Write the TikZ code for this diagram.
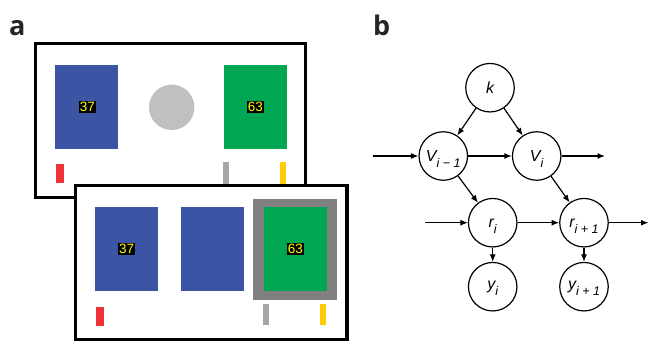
\documentclass[tikz,border=0pt]{standalone}
\usepackage{fontspec}
\setmainfont{Liberation Sans}
\newfontfamily\labfont{Open Sans}
\usetikzlibrary{arrows.meta}
\definecolor{cblue}{HTML}{3B54A3}
\definecolor{cgreen}{HTML}{00A651}
\definecolor{ccirc}{HTML}{C0C0C0}
\definecolor{cgframe}{HTML}{808080}
\definecolor{cbar}{HTML}{A6A6A6}
\definecolor{cred}{HTML}{EE3338}
\definecolor{cyel}{HTML}{FFCB05}
\definecolor{cnum}{HTML}{FFFF00}
\newcommand{\sublbl}[2]{#1\raisebox{-0.38em}[0pt][0pt]{\fontsize{12.5}{12.5}\selectfont #2}}
\begin{document}
\begin{tikzpicture}[x=1pt,y=-1pt,
  panel/.style={draw=black, line width=3.5pt, fill=white},
  num/.style={fill=black, text=cnum, inner sep=1.2pt, font=\fontsize{13.5}{13.5}\selectfont},
  plabel/.style={anchor=base west, inner sep=0pt, font=\labfont\bfseries\fontsize{27}{27}\selectfont, text=black!85},
  gnode/.style={circle, draw, line width=1.2pt, minimum size=48.5pt, inner sep=0pt, fill=white, font=\fontsize{16}{16}\selectfont\itshape},
  arr/.style={-{Latex[length=7.5pt,width=6pt]}, line width=1.2pt}]
\useasboundingbox (0,0) rectangle (649,341);
\fill[white] (0,0) rectangle (649,341);
% panel labels
\node[plabel] (la) at (9,35) {a};
\node[plabel] (lb) at (373,35.5) {b};
% ---- top screen
\filldraw[panel] (35.5,43.5) rectangle (305.5,197.5);
\fill[cblue] (55.3,64.7) rectangle (118.3,149.3);
\fill[ccirc] (171.7,107.3) circle[radius=22.7pt];
\fill[cgreen] (224,64.7) rectangle (287.3,149.3);
\node[num] (n1) at (87.3,107.3) {37};
\node[num] (n2) at (255.3,107.3) {63};
\fill[cred] (56,164) rectangle (64.3,183.3);
\fill[cbar] (222.7,162.3) rectangle (228.7,186);
\fill[cyel] (280.3,162.3) rectangle (286,186);
% ---- bottom screen
\filldraw[panel] (75.5,185.5) rectangle (347,339.5);
\fill[cblue] (95.3,206.7) rectangle (158.3,291);
\fill[cblue] (180.7,206.7) rectangle (243.7,291);
\fill[cgframe] (253.3,199) rectangle (336.7,300);
\fill[cgreen] (264,206.7) rectangle (327,291);
\node[num] (n3) at (126.7,249.3) {37};
\node[num] (n4) at (295.5,249.3) {63};
\fill[cred] (96,306.7) rectangle (104.3,326);
\fill[cbar] (262.7,304.3) rectangle (268.7,325.3);
\fill[cyel] (320,304.3) rectangle (325.7,325.3);
% ---- graph
\node[gnode] (k) at (490,87.7) {k};
\node[gnode] (v1) at (443.3,156) {\sublbl{V}{i − 1}};
\node[gnode] (v2) at (536.7,156) {\sublbl{V}{i}};
\node[gnode] (r1) at (492.7,222.7) {\sublbl{r}{i}};
\node[gnode] (r2) at (584,222.7) {\sublbl{r}{i + 1}};
\node[gnode] (y1) at (492.7,286.7) {\sublbl{y}{i}};
\node[gnode] (y2) at (584,286.7) {\sublbl{y}{i + 1}};
\coordinate (vin) at (373,156);
\coordinate (vout) at (605,156);
\coordinate (rin) at (425,222.7);
\coordinate (rout) at (648.5,222.7);
\draw[arr] (k) -- (v1);
\draw[arr] (k) -- (v2);
\draw[arr] (vin) -- (v1);
\draw[arr] (v1) -- (v2);
\draw[arr] (v2) -- (vout);
\draw[arr] (v1) -- (r1);
\draw[arr] (v2) -- (r2);
\draw[arr] (rin) -- (r1);
\draw[arr] (r1) -- (r2);
\draw[arr] (r2) -- (rout);
\draw[arr] (r1) -- (y1);
\draw[arr] (r2) -- (y2);
\end{tikzpicture}
\end{document}
